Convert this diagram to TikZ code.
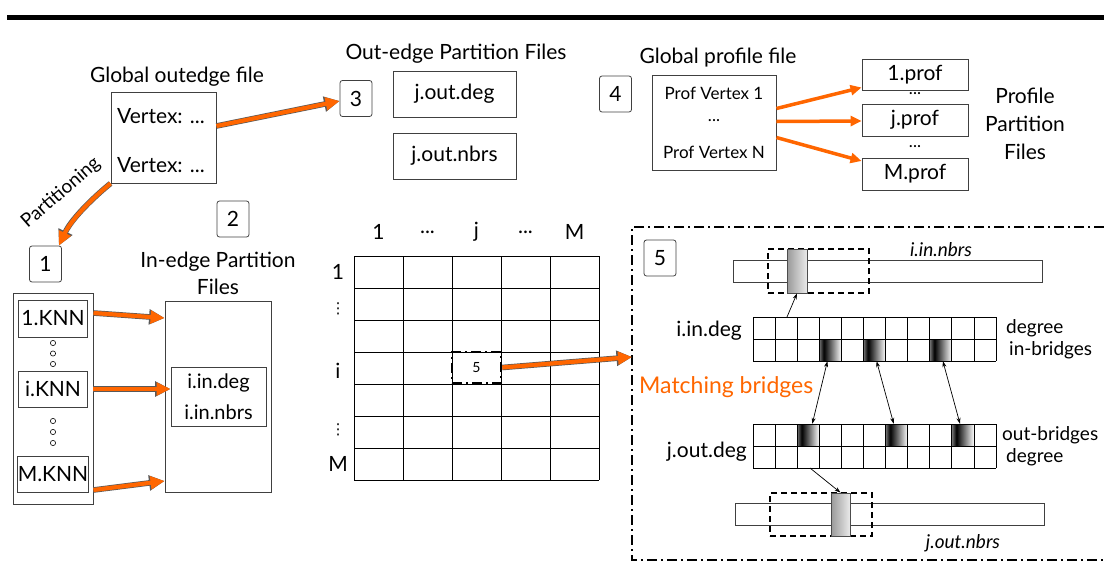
\documentclass[tikz,border=0pt]{standalone}
\usepackage{fontspec}
\setmainfont{Lato}
\newfontfamily\symfont{DejaVu Sans}
\usetikzlibrary{arrows.meta}
\definecolor{partorange}{RGB}{255,102,0}
\pgfdeclarehorizontalshading{bridgeshade}{100bp}{color(0bp)=(black!55); color(25bp)=(black!55); color(35bp)=(black); color(75bp)=(white); color(100bp)=(white)}
\pgfdeclarehorizontalshading{nbrshade}{100bp}{color(0bp)=(black!40); color(25bp)=(black!40); color(75bp)=(black!8); color(100bp)=(black!8)}
\newcommand{\fsz}[1]{\fontsize{#1}{#1}\selectfont}
\tikzset{
  filebox/.style={draw=black!75, line width=0.9pt, inner sep=0pt, align=center},
  numbox/.style={draw=black!75, line width=0.8pt, rounded corners=2.5pt, minimum width=32pt, minimum height=36pt, inner sep=0pt, font={\fsz{21}}},
  orangearrow/.style={preaction={draw=black!65, line width=5.6pt, -{Triangle[length=15.5pt,width=14.5pt]}}, draw=partorange, line width=4.2pt, -{Triangle[length=14pt,width=12.5pt]}},
  profarrow/.style={draw=partorange, line width=3.5pt, -{Triangle[length=11pt,width=10pt]}},
  thinarrow/.style={line width=0.7pt, -{Stealth[length=6pt,width=4pt]}},
  bridge/.style={shade, shading=bridgeshade, minimum width=22.1pt, minimum height=22pt, inner sep=0pt},
  nbrcell/.style={shade, shading=nbrshade, draw=black!70, line width=0.8pt, inner sep=0pt},
  window/.style={draw, line width=1.4pt, dash pattern=on 6pt off 4pt},
  lbl/.style={inner sep=0pt, font={\fsz{21}}},
  small/.style={inner sep=0pt, font={\fsz{19}}}
}
\begin{document}
\begin{tikzpicture}[x=1pt, y=-1pt]
\useasboundingbox (0,0) rectangle (1104,587);
\draw [line width=5pt] (7,17) -- (1104,17);

\node (outtitle) at (177,77) [lbl] {Global outedge file};
\node (outedge) at (163.5,137.5) [filebox, minimum width=105pt, minimum height=91pt] {};
\node (vert1) at (117,116) [lbl, anchor=west] {Vertex: ...};
\node (vert2) at (117,165) [lbl, anchor=west] {Vertex: ...};
\node (three) at (356,98.5) [numbox] {3};
\node (outtitle2) at (456,54) [lbl] {Out-edge Partition Files};
\node (outdeg) at (454.5,94) [filebox, minimum width=123pt, minimum height=46pt, font={\fsz{21}}] {j.out.deg};
\node (outnbrs) at (454.5,156) [filebox, minimum width=123pt, minimum height=46pt, font={\fsz{21}}] {j.out.nbrs};
\draw [orangearrow] (outedge.east |- 0,126) -- (three.west |- 0,101);

\node (two) at (233,219) [numbox] {2};
\node (one) at (45.5,264) [numbox] {1};
\draw [orangearrow] (outedge.south west) .. controls (95,196) and (72,218) .. ([xshift=-3pt]one.north east);
\node (parttext) at (61,193) [inner sep=0pt, rotate=41, font={\fsz{19}}] {Partitioning};

\node (stack) at (53,398.5) [filebox, minimum width=80pt, minimum height=211pt] {};
\node (knn1) at (53,318.5) [filebox, minimum width=69pt, minimum height=37pt, font={\fsz{21}}] {1.KNN};
\node (knni) at (53,389) [filebox, minimum width=69pt, minimum height=36pt, font={\fsz{21}}] {i.KNN};
\node (knnm) at (53,474) [filebox, minimum width=69pt, minimum height=36pt, font={\fsz{21}}] {M.KNN};
\foreach \y in {343,353.5,364,421,432,443} \draw [line width=0.6pt] (53,\y) circle (2.6pt);

\node (intitle) at (218,273) [lbl, align=center, font={\fsz{21}\baselineskip=27pt}] {In-edge Partition\\Files};
\node (inedge) at (218,396.5) [filebox, minimum width=106pt, minimum height=191pt] {};
\node (ideg) at (218.5,396.5) [filebox, minimum width=95pt, minimum height=59pt, font={\fsz{20}\baselineskip=31pt}] {i.in.deg\\i.in.nbrs};
\draw [orangearrow] (stack.east |- 0,313) -- (inedge.west |- 0,318);
\draw [orangearrow] (stack.east |- 0,389) -- (ideg.west |- 0,389);
\draw [orangearrow] (stack.east |- 0,490) -- (inedge.west |- 0,481);

\foreach \c in {0,...,5} \draw [line width=1pt] (354+\c*49,256) -- ++(0,224);
\foreach \r in {0,...,7} \draw [line width=1pt] (354,256+\r*32) -- ++(245,0);
\node (col1) at (378.5,232) [lbl] {1};
\node (col2) at (427.5,232) [lbl] {...};
\node (colj) at (476.5,232) [lbl] {j};
\node (col4) at (525.5,232) [lbl] {...};
\node (colm) at (574.5,232) [lbl] {M};
\node (row1) at (338,272) [lbl] {1};
\node (row2) at (338,309) [inner sep=0pt, font={\fsz{15}\symfont}] {⋮};
\node (rowi) at (338,371) [lbl] {i};
\node (row6) at (338,430) [inner sep=0pt, font={\fsz{15}\symfont}] {⋮};
\node (rowm) at (338,464) [lbl] {M};
\node (cellfive) at (476.5,367.5) [draw, line width=2.6pt, dash pattern=on 10pt off 4pt on 2pt off 4pt, minimum width=49pt, minimum height=31pt, inner sep=0pt, font={\fsz{14}}] {5};

\node (proftitle) at (718,58) [lbl] {Global profile file};
\node (four) at (615.5,94) [numbox] {4};
\node (prof) at (714,122.5) [filebox, minimum width=124pt, minimum height=95pt] {};
\node (pv1) at (714,93) [inner sep=0pt, font={\fsz{17}}] {Prof Vertex 1};
\node (pvdots) at (714,121) [inner sep=0pt, font={\fsz{17}}] {...};
\node (pvn) at (714,152) [inner sep=0pt, font={\fsz{17}}] {Prof Vertex N};
\node (prof1) at (915,74.5) [filebox, minimum width=106pt, minimum height=31pt, font={\fsz{21}}] {1.prof};
\node (profj) at (915,120) [filebox, minimum width=106pt, minimum height=32pt, font={\fsz{21}}] {j.prof};
\node (profm) at (915,174) [filebox, minimum width=106pt, minimum height=32pt, font={\fsz{21}}] {M.prof};
\node (pdots1) at (915,94) [inner sep=0pt, font={\fsz{17}}] {...};
\node (pdots2) at (915,147) [inner sep=0pt, font={\fsz{17}}] {...};
\node (proftext) at (1025,124) [lbl, align=center, font={\fsz{21}\baselineskip=28pt}] {Profile\\Partition\\Files};
\draw [profarrow] ([yshift=14pt]prof.east) -- ([yshift=-13pt]prof1.west);
\draw [profarrow] ([yshift=1pt]prof.east) -- ([yshift=-1pt]profj.west);
\draw [profarrow] ([yshift=-15pt]prof.east) -- ([yshift=13pt]profm.west);

\draw [line width=2pt, dash pattern=on 10pt off 4pt on 2pt off 4pt] (1104,227) -- (632,227) -- (632,560) -- (1104,560);
\coordinate (zoomin) at (632,357);
\draw [orangearrow] (cellfive.east) -- (zoomin);
\node (five) at (660,258) [numbox] {5};

\node (inbar) at (887.5,271) [draw=black!75, line width=0.8pt, minimum width=309pt, minimum height=22pt, inner sep=0pt] {};
\node (inwin) at (818.5,271) [window, minimum width=101pt, minimum height=44pt, inner sep=0pt] {};
\node (incell) at (797,271) [nbrcell, minimum width=20pt, minimum height=44pt] {};
\node (innbrs) at (941,250) [inner sep=0pt, font={\fsz{19}\itshape}] {i.in.nbrs};

\node (ib1) at (830.4,350) [bridge] {};
\node (ib2) at (874.6,350) [bridge] {};
\node (ib3) at (940.9,350) [bridge] {};
\node (ob1) at (808.3,435) [bridge] {};
\node (ob2) at (896.7,435) [bridge] {};
\node (ob3) at (963,435) [bridge] {};
\foreach \k in {0,...,11} {
  \draw [line width=0.9pt] (753+\k*22.1,317) -- ++(0,44);
  \draw [line width=0.9pt] (753+\k*22.1,424) -- ++(0,44);
}
\foreach \r in {0,1,2} {
  \draw [line width=0.9pt] (753,317+\r*22) -- ++(243.1,0);
  \draw [line width=0.9pt] (753,424+\r*22) -- ++(243.1,0);
}
\node (indeg) at (742,331) [lbl, anchor=east] {i.in.deg};
\node (indegr) at (1006,328) [small, anchor=west] {degree};
\node (inbr) at (1009,350) [small, anchor=west] {in-bridges};
\node (match) at (639,387) [inner sep=0pt, anchor=west, text=partorange, font={\fsz{23}}] {Matching bridges};
\node (outdegl) at (747,452) [lbl, anchor=east] {j.out.deg};
\node (outbr) at (1002,435) [small, anchor=west] {out-bridges};
\node (outdegr) at (1006,457) [small, anchor=west] {degree};
\draw [thinarrow, {Stealth[length=6pt,width=4pt]}-{Stealth[length=6pt,width=4pt]}] ([xshift=-3pt]ib1.south) -- ([xshift=4pt]ob1.north);
\draw [thinarrow, {Stealth[length=6pt,width=4pt]}-{Stealth[length=6pt,width=4pt]}] ([xshift=2pt]ib2.south) -- ([xshift=-3pt]ob2.north);
\draw [thinarrow, {Stealth[length=6pt,width=4pt]}-{Stealth[length=6pt,width=4pt]}] ([xshift=2pt]ib3.south) -- ([xshift=-3pt]ob3.north);

\node (outbar) at (889.5,514) [draw=black!75, line width=0.8pt, minimum width=309pt, minimum height=22pt, inner sep=0pt] {};
\node (outwin) at (821,514.5) [window, minimum width=102pt, minimum height=43pt, inner sep=0pt] {};
\node (outcell) at (840.5,514.5) [nbrcell, minimum width=19pt, minimum height=43pt] {};
\node (outnbrsl) at (963,543) [inner sep=0pt, font={\fsz{19}\itshape}] {j.out.nbrs};
\coordinate (indegtop) at (787,317);
\coordinate (outdegbot) at (810,468);
\draw [thinarrow] (indegtop) -- (incell.south);
\draw [thinarrow] (outdegbot) -- (outcell.north);
\end{tikzpicture}
\end{document}
